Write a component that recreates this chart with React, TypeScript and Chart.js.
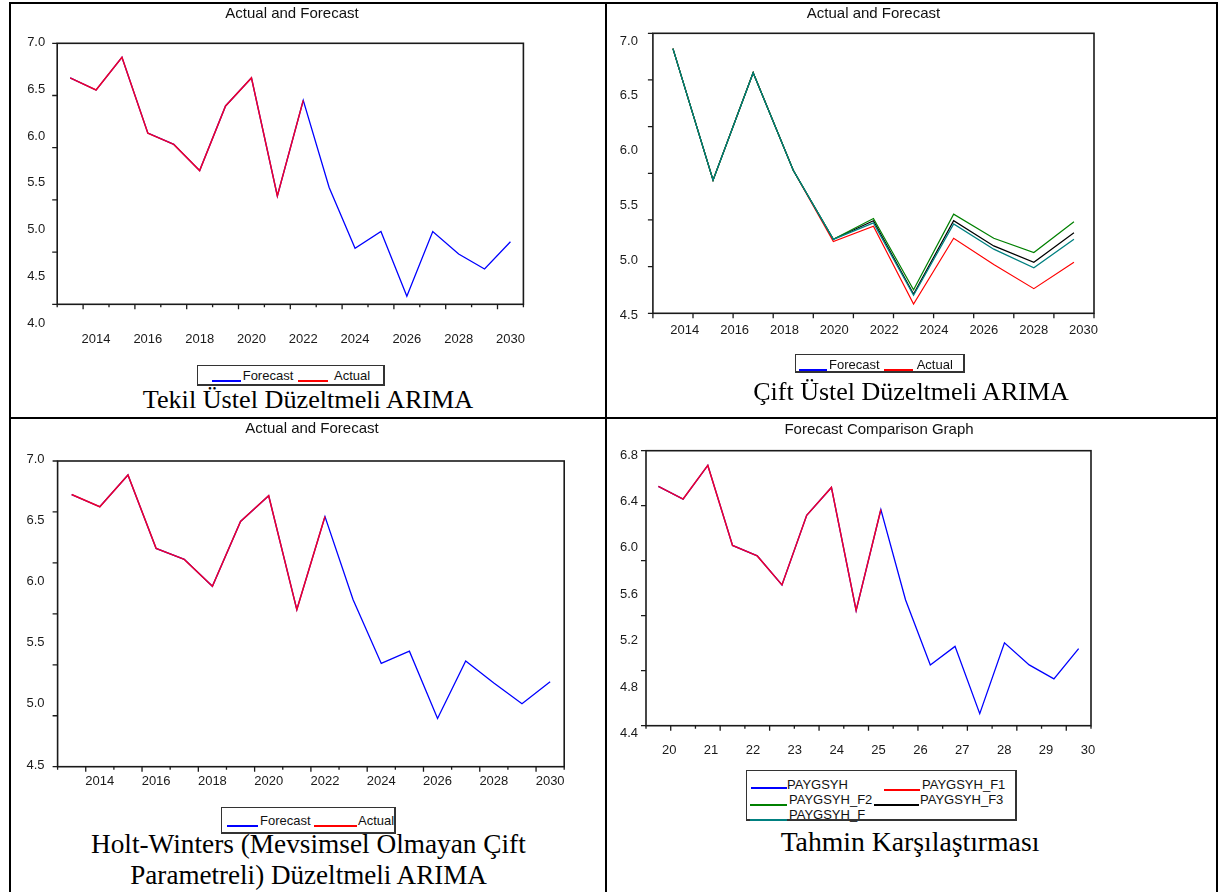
import React, { useEffect, useRef } from "react";
import { Chart, registerables } from "chart.js";

Chart.register(...registerables);

// ---------------- DATA ----------------
// Panel 1: Tekil Üstel Düzeltmeli ARIMA
const tekilYears = ["2013","2014","2015","2016","2017","2018","2019","2020","2021","2022","2023","2024","2025","2026","2027","2028","2029","2030"];
const tekilForecast = [6.62, 6.49, 6.84, 6.03, 5.91, 5.63, 6.32, 6.62, 5.36, 6.38, 5.45, 4.80, 4.98, 4.29, 4.98, 4.74, 4.58, 4.87];
const tekilActual = [6.62, 6.49, 6.84, 6.03, 5.91, 5.63, 6.32, 6.62, 5.36, 6.38, null, null, null, null, null, null, null, null];
const tekilYTicks = [7.0, 6.5, 6.0, 5.5, 5.0, 4.5, 4.0];
const tekilXTicks = ["2014","2016","2018","2020","2022","2024","2026","2028","2030"];

// Panel 2: Çift Üstel Düzeltmeli ARIMA
const ciftPeriods = ["1","2","3","4","5","6","7","8","9","10","11"];
const ciftActual = [6.93, 5.73, 6.71, 5.82, 5.17, 5.31, 4.60, 5.20, 4.96, 4.74, 4.98];
const ciftF2 = [6.93, 5.73, 6.71, 5.82, 5.19, 5.38, 4.73, 5.42, 5.20, 5.07, 5.35];
const ciftF3 = [6.93, 5.73, 6.71, 5.82, 5.19, 5.36, 4.69, 5.36, 5.13, 4.98, 5.25];
const ciftF = [6.93, 5.73, 6.71, 5.82, 5.19, 5.34, 4.68, 5.33, 5.10, 4.93, 5.19];
const ciftYTicks = [7.0, 6.5, 6.0, 5.5, 5.0, 4.5];
const ciftXTicks = [2014, 2016, 2018, 2020, 2022, 2024, 2026, 2028, 2030];

// Panel 3: Holt-Winters
const holtYears = ["2013","2014","2015","2016","2017","2018","2019","2020","2021","2022","2023","2024","2025","2026","2027","2028","2029","2030"];
const holtForecast = [6.71, 6.61, 6.87, 6.27, 6.18, 5.96, 6.49, 6.70, 5.77, 6.53, 5.85, 5.33, 5.43, 4.88, 5.35, 5.17, 5.00, 5.18];
const holtActual = [6.71, 6.61, 6.87, 6.27, 6.18, 5.96, 6.49, 6.70, 5.77, 6.53, null, null, null, null, null, null, null, null];
const holtYTicks = [7.0, 6.5, 6.0, 5.5, 5.0, 4.5];
const holtXTicks = ["2014","2016","2018","2020","2022","2024","2026","2028","2030"];

// Panel 4: Forecast Comparison Graph
const compPeriods = ["2013","2014","2015","2016","2017","2018","2019","2020","2021","2022","2023","2024","2025","2026","2027","2028","2029","2030"];
const compPaygsyh = [6.53, 6.42, 6.71, 6.02, 5.93, 5.68, 6.28, 6.52, 5.46, 6.33, 5.55, 4.99, 5.15, 4.57, 5.18, 4.99, 4.87, 5.13];
const compF1 = [6.53, 6.42, 6.71, 6.02, 5.93, 5.68, 6.28, 6.52, 5.46, 6.33, null, null, null, null, null, null, null, null];
const compYTicks = [6.8, 6.4, 6.0, 5.6, 5.2, 4.8, 4.4];
const compXTicks = [20, 21, 22, 23, 24, 25, 26, 27, 28, 29, 30];

const legendForecastActual = ["Forecast", "Actual"];
const legendComparison = ["PAYGSYH", "PAYGSYH_F1", "PAYGSYH_F2", "PAYGSYH_F3", "PAYGSYH_F"];

// ---------------- STYLE ----------------
const SANS = '"Liberation Sans", Arial, sans-serif';
const SERIF = '"Liberation Serif", "Times New Roman", serif';
const BLUE = "#0000ff";
const RED = "#ff0000";
const GREEN = "#008000";
const BLACK = "#000000";
const TEAL = "#008080";

// ---------------- PLUGIN: EViews-like frame, ticks and labels ----------------
const evAxesPlugin = {
  id: "evAxes",
  afterDraw(chart: any, _args: any, o: any) {
    const { ctx, chartArea: a } = chart;
    const xs = chart.scales.x;
    const ys = chart.scales.y;
    ctx.save();
    ctx.strokeStyle = "#1a1a1a";
    ctx.lineWidth = 1.6;
    ctx.strokeRect(a.left, a.top, a.right - a.left, a.bottom - a.top);
    ctx.lineWidth = 1.3;
    ctx.beginPath();
    for (let k = 0; k <= o.yTickIntervals; k++) {
      const y = a.top + ((a.bottom - a.top) * k) / o.yTickIntervals;
      ctx.moveTo(a.left - 5, y);
      ctx.lineTo(a.left, y);
    }
    const n = chart.data.labels.length;
    for (let i = 0; i <= n; i++) {
      const x = xs.getPixelForValue(i - 0.5);
      const len = o.xTickAlt ? (i % 2 === 1 ? 5 : 3) : 5;
      ctx.moveTo(x, a.bottom);
      ctx.lineTo(x, a.bottom + len);
    }
    ctx.stroke();

    ctx.fillStyle = "#1a1a1a";
    ctx.font = `13px ${SANS}`;
    ctx.textAlign = "right";
    ctx.textBaseline = "middle";
    o.yLabels.forEach((v: number) => {
      ctx.fillText(v.toFixed(1), a.left - o.yLabelGap, ys.getPixelForValue(v));
    });
    ctx.textAlign = "center";
    const ls = chart.scales[o.xLabelScale];
    o.xLabels.forEach((t: string, i: number) => {
      ctx.fillText(t, ls.getPixelForValue(o.xLabelValues[i]), o.xLabelY);
    });
    ctx.restore();
  },
};

type PanelCfg = {
  canvas: { x: number; y: number; w: number; h: number };
  frame: { l: number; t: number; r: number; b: number };
  labels: string[];
  datasets: any[];
  yMin: number;
  yMax: number;
  yTickIntervals: number;
  yLabels: number[];
  yLabelGap: number;
  xTickAlt: boolean;
  xLabels: string[];
  xLabelValues: number[];
  xLabelScale: string;
  xLabelPageY: number;
  xl?: { min: number; max: number };
};

function Panel({ cfg }: { cfg: PanelCfg }) {
  const ref = useRef<HTMLCanvasElement | null>(null);
  useEffect(() => {
    if (!ref.current) return;
    const c = cfg.canvas;
    const f = cfg.frame;
    const scales: any = {
      x: { type: "category", offset: true, display: false },
      y: { type: "linear", min: cfg.yMin, max: cfg.yMax, display: false },
    };
    if (cfg.xl) {
      scales.xl = { type: "linear", axis: "x", min: cfg.xl.min, max: cfg.xl.max, display: false };
    }
    const chart = new Chart(ref.current, {
      type: "line",
      data: { labels: cfg.labels, datasets: cfg.datasets },
      options: {
        responsive: false,
        animation: false,
        devicePixelRatio: 1,
        layout: {
          padding: {
            left: f.l - c.x,
            top: f.t - c.y,
            right: c.x + c.w - f.r,
            bottom: c.y + c.h - f.b,
          },
        },
        elements: { point: { radius: 0 }, line: { tension: 0 } },
        plugins: {
          legend: { display: false },
          title: { display: false },
          tooltip: { enabled: false },
          evAxes: {
            yTickIntervals: cfg.yTickIntervals,
            yLabels: cfg.yLabels,
            yLabelGap: cfg.yLabelGap,
            xTickAlt: cfg.xTickAlt,
            xLabels: cfg.xLabels,
            xLabelValues: cfg.xLabelValues,
            xLabelScale: cfg.xLabelScale,
            xLabelY: cfg.xLabelPageY - c.y,
          },
        } as any,
        scales,
      },
      plugins: [evAxesPlugin],
    });
    return () => chart.destroy();
  }, [cfg]);
  return (
    <canvas
      ref={ref}
      width={cfg.canvas.w}
      height={cfg.canvas.h}
      style={{ position: "absolute", left: cfg.canvas.x, top: cfg.canvas.y, width: cfg.canvas.w, height: cfg.canvas.h }}
    />
  );
}

const line = (label: string, data: any[], color: string, width: number, order: number) => ({
  label,
  data,
  borderColor: color,
  backgroundColor: color,
  borderWidth: width,
  pointRadius: 0,
  fill: false,
  order,
});

const idx = (years: string[], ticks: string[]) => ticks.map((t) => years.indexOf(t));

const panels: PanelCfg[] = [
  {
    canvas: { x: 12, y: 4, w: 592, h: 352 },
    frame: { l: 57.2, t: 43.3, r: 523.4, b: 304.3 },
    labels: tekilYears,
    datasets: [
      line(legendForecastActual[1], tekilActual, "#f0002a", 1.5, 0),
      line(legendForecastActual[0], tekilForecast, BLUE, 1.3, 1),
    ],
    yMin: 4.203,
    yMax: 6.989,
    yTickIntervals: 5,
    yLabels: tekilYTicks,
    yLabelGap: 12,
    xTickAlt: true,
    xLabels: tekilXTicks,
    xLabelValues: idx(tekilYears, tekilXTicks),
    xLabelScale: "x",
    xLabelPageY: 339.5,
  },
  {
    canvas: { x: 607, y: 4, w: 609, h: 352 },
    frame: { l: 652.9, t: 33.3, r: 1094, b: 313.3 },
    labels: ciftPeriods,
    datasets: [
      line("PAYGSYH_F", ciftF, TEAL, 1.3, 0),
      line("PAYGSYH_F2", ciftF2, GREEN, 1.2, 1),
      line("PAYGSYH_F3", ciftF3, BLACK, 1.2, 2),
      line(legendForecastActual[1], ciftActual, RED, 1.2, 3),
    ],
    yMin: 4.515,
    yMax: 7.07,
    yTickIntervals: 6,
    yLabels: ciftYTicks,
    yLabelGap: 15,
    xTickAlt: false,
    xLabels: ciftXTicks.map(String),
    xLabelValues: ciftXTicks,
    xLabelScale: "xl",
    xLabelPageY: 330,
    xl: { min: 2012.72, max: 2030.42 },
  },
  {
    canvas: { x: 12, y: 420, w: 592, h: 380 },
    frame: { l: 57.6, t: 461, r: 564.2, b: 766.7 },
    labels: holtYears,
    datasets: [
      line(legendForecastActual[1], holtActual, "#f0002a", 1.5, 0),
      line(legendForecastActual[0], holtForecast, BLUE, 1.3, 1),
    ],
    yMin: 4.486,
    yMax: 6.984,
    yTickIntervals: 6,
    yLabels: holtYTicks,
    yLabelGap: 13,
    xTickAlt: true,
    xLabels: holtXTicks,
    xLabelValues: idx(holtYears, holtXTicks),
    xLabelScale: "x",
    xLabelPageY: 781.7,
  },
  {
    canvas: { x: 607, y: 420, w: 609, h: 350 },
    frame: { l: 646, t: 450.7, r: 1091, b: 725.7 },
    labels: compPeriods,
    datasets: [
      line(legendComparison[1], compF1, "#f0002a", 1.5, 0),
      line(legendComparison[0], compPaygsyh, BLUE, 1.3, 1),
    ],
    yMin: 4.466,
    yMax: 6.837,
    yTickIntervals: 5,
    yLabels: compYTicks,
    yLabelGap: 8,
    xTickAlt: true,
    xLabels: compXTicks.map(String),
    xLabelValues: compXTicks,
    xLabelScale: "xl",
    xLabelPageY: 750,
    xl: { min: 19.446, max: 30.074 },
  },
];

// ---------------- HTML overlays ----------------
const titles = [
  { text: "Actual and Forecast", cx: 292, cy: 12.8 },
  { text: "Actual and Forecast", cx: 873.5, cy: 12.8 },
  { text: "Actual and Forecast", cx: 312, cy: 427.5 },
  { text: "Forecast Comparison Graph", cx: 879, cy: 428.2 },
];

const captions = [
  { text: "Tekil Üstel Düzeltmeli ARIMA", cx: 308, base: 409.3, fs: 26.2 },
  { text: "Çift Üstel Düzeltmeli ARIMA", cx: 911, base: 400.5, fs: 26 },
  { text: "Holt-Winters (Mevsimsel Olmayan Çift", cx: 308.4, base: 854, fs: 27.3 },
  { text: "Parametreli) Düzeltmeli ARIMA", cx: 308.6, base: 885, fs: 27.1 },
  { text: "Tahmin Karşılaştırması", cx: 910, base: 851, fs: 27.7 },
];

type LegendItem = { kind: "line"; x1: number; x2: number; y: number; color: string } | { kind: "text"; x: number; cy: number; text: string };

const legends: { box: [number, number, number, number]; items: LegendItem[] }[] = [
  {
    box: [196.7, 365, 385, 386],
    items: [
      { kind: "line", x1: 212, x2: 240.7, y: 380.5, color: BLUE },
      { kind: "text", x: 242.7, cy: 375, text: legendForecastActual[0] },
      { kind: "line", x1: 298, x2: 327.7, y: 380.5, color: RED },
      { kind: "text", x: 334, cy: 375, text: legendForecastActual[1] },
    ],
  },
  {
    box: [795, 354, 965, 372.7],
    items: [
      { kind: "line", x1: 799.3, x2: 826.7, y: 369.5, color: BLUE },
      { kind: "text", x: 829, cy: 364.3, text: legendForecastActual[0] },
      { kind: "line", x1: 884, x2: 912.7, y: 369.5, color: RED },
      { kind: "text", x: 916.7, cy: 364.3, text: legendForecastActual[1] },
    ],
  },
  {
    box: [220.6, 807.3, 395.7, 834],
    items: [
      { kind: "line", x1: 226.8, x2: 257.6, y: 826, color: BLUE },
      { kind: "text", x: 260, cy: 820.7, text: legendForecastActual[0] },
      { kind: "line", x1: 314.4, x2: 357.2, y: 826, color: RED },
      { kind: "text", x: 358, cy: 820.7, text: legendForecastActual[1] },
    ],
  },
  {
    box: [746, 770, 1017, 821],
    items: [
      { kind: "line", x1: 751, x2: 787, y: 788, color: BLUE },
      { kind: "text", x: 787, cy: 784.3, text: legendComparison[0] },
      { kind: "line", x1: 884, x2: 920, y: 789.5, color: RED },
      { kind: "text", x: 922, cy: 784.3, text: legendComparison[1] },
      { kind: "line", x1: 750, x2: 787, y: 804.5, color: GREEN },
      { kind: "text", x: 789, cy: 799.5, text: legendComparison[2] },
      { kind: "line", x1: 873.5, x2: 919, y: 804.5, color: BLACK },
      { kind: "text", x: 920, cy: 799.5, text: legendComparison[3] },
      { kind: "line", x1: 750, x2: 787, y: 819.5, color: TEAL },
      { kind: "text", x: 789, cy: 814.3, text: legendComparison[4] },
    ],
  },
];

const borders = [
  { left: 9, top: 2, width: 1209, height: 2 },
  { left: 9, top: 2, width: 2, height: 890 },
  { left: 605, top: 2, width: 2, height: 890 },
  { left: 1216, top: 2, width: 2, height: 890 },
  { left: 9, top: 417, width: 1209, height: 2 },
];

export default function App() {
  return (
    <div style={{ position: "absolute", left: 0, top: 0, width: 1220, height: 892, background: "#fff", overflow: "hidden" }}>
      {borders.map((b, i) => (
        <div key={"b" + i} style={{ position: "absolute", ...b, background: "#000" }} />
      ))}
      {panels.map((p, i) => (
        <Panel key={"p" + i} cfg={p} />
      ))}
      {titles.map((t, i) => (
        <div
          key={"t" + i}
          style={{
            position: "absolute",
            left: t.cx,
            top: t.cy - 7.5,
            transform: "translateX(-50%)",
            font: `15px ${SANS}`,
            lineHeight: "15px",
            whiteSpace: "nowrap",
            color: "#111",
          }}
        >
          {t.text}
        </div>
      ))}
      {legends.map((lg, i) => (
        <React.Fragment key={"l" + i}>
          <div
            style={{
              position: "absolute",
              left: lg.box[0],
              top: lg.box[1],
              width: lg.box[2] - lg.box[0],
              height: lg.box[3] - lg.box[1],
              boxSizing: "border-box",
              border: "1px solid #333",
              borderRightWidth: 2,
              borderBottomWidth: 2,
            }}
          />
          {lg.items.map((it, j) =>
            it.kind === "line" ? (
              <div
                key={j}
                style={{ position: "absolute", left: it.x1, top: it.y - 1, width: it.x2 - it.x1, height: 2, background: it.color }}
              />
            ) : (
              <div
                key={j}
                style={{
                  position: "absolute",
                  left: it.x,
                  top: it.cy - 6.5,
                  font: `13px ${SANS}`,
                  lineHeight: "13px",
                  whiteSpace: "nowrap",
                  color: "#111",
                }}
              >
                {it.text}
              </div>
            )
          )}
        </React.Fragment>
      ))}
      {captions.map((c, i) => (
        <div
          key={"c" + i}
          style={{
            position: "absolute",
            left: c.cx,
            top: c.base - 0.8375 * c.fs,
            transform: "translateX(-50%)",
            font: `${c.fs}px ${SERIF}`,
            lineHeight: `${c.fs}px`,
            whiteSpace: "nowrap",
            color: "#000",
          }}
        >
          {c.text}
        </div>
      ))}
    </div>
  );
}
